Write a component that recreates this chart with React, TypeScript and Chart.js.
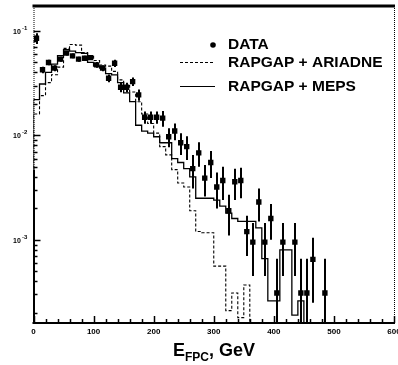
import React, { useEffect, useRef } from "react";
import { Chart, registerables } from "chart.js";

Chart.register(...registerables);

// ---- data ----
const binWidth = 10; // GeV
const mepsValues = [
  0.012, 0.022, 0.031, 0.04, 0.048, 0.058, 0.066, 0.064, 0.062, 0.061,
  0.05, 0.046, 0.044, 0.039, 0.038, 0.032, 0.0255, 0.021, 0.0125, 0.011,
  0.0105, 0.0097, 0.0085, 0.0085, 0.006, 0.0055, 0.0048, 0.004, 0.0025, 0.0025,
  0.0025, 0.0024, 0.0021, 0.0018, 0.0016, 0.0015, 0.0015, 0.0015, 0.0013, 0.00066,
  0.00026, 0.00026, 0.0008, 0.0008, 0.00019, 0.00026,
];
const ariadneValues = [
  0.009, 0.016, 0.024, 0.032, 0.038, 0.045, 0.068, 0.074, 0.073, 0.062,
  0.058, 0.052, 0.047, 0.046, 0.041, 0.034, 0.03, 0.026, 0.021, 0.016,
  0.013, 0.0105, 0.0078, 0.0065, 0.0047, 0.0035, 0.0032, 0.0019, 0.0012, 0.00117,
  0.00117, 0.00056, 0.00056, 0.00021, 0.00031, 0.00018, 0.00037,
];
const dataX = [
  5, 15, 25, 35, 45, 55, 65, 75, 85, 95,
  105, 115, 125, 135, 145, 155, 165, 175, 185, 195,
  205, 215, 225, 235, 245, 255, 265, 275, 285, 295,
  305, 315, 325, 335, 345, 355, 365, 375, 385, 395,
  405, 415, 435, 445, 455, 465, 485,
];
const dataY = [
  0.085, 0.0424, 0.0498, 0.044, 0.0536, 0.0612, 0.0576, 0.0536, 0.0547, 0.0555,
  0.0473, 0.044, 0.0352, 0.049, 0.0289, 0.0289, 0.0327, 0.0244, 0.0149, 0.0149,
  0.0149, 0.0146, 0.0097, 0.011, 0.0085, 0.0078, 0.0048, 0.0068, 0.0039, 0.0055,
  0.0032, 0.0037, 0.0019, 0.0036, 0.0037, 0.0012, 0.00095, 0.0023, 0.00095, 0.0016,
  0.00031, 0.00095, 0.00095, 0.00031, 0.00031, 0.00065, 0.00031,
];
const dataErr = [
  0.01, 0.003, 0.003, 0.003, 0.003, 0.003, 0.003, 0.003, 0.003, 0.003,
  0.003, 0.003, 0.003, 0.004, 0.003, 0.003, 0.003, 0.003, 0.002, 0.002,
  0.002, 0.0025, 0.002, 0.002, 0.002, 0.002, 0.0017, 0.0018, 0.0013, 0.0016,
  0.0012, 0.0013, 0.0008, 0.0012, 0.0012, 0.0005, 0.0005, 0.0008, 0.0005, 0.0006,
  0.00035, 0.0005, 0.0005, 0.00035, 0.00035, 0.0004, 0.00035,
];
const xTickLabels = ["0", "100", "200", "300", "400", "500", "600"];
const xTickValues = [0, 100, 200, 300, 400, 500, 600];
const yDecades = [-1, -2, -3];
const legendLabels = ["DATA", "RAPGAP + ARIADNE", "RAPGAP + MEPS"];
const X_MIN = 0;
const X_MAX = 600;
const Y_MIN = 1.6e-4;
const Y_MAX = 0.173;
const FLOOR = 1e-6;

const FONT = "'Liberation Sans', Arial, Helvetica, sans-serif";

function histPoints(values: number[]) {
  const pts: { x: number; y: number }[] = [{ x: 0, y: FLOOR }];
  values.forEach((v, i) => pts.push({ x: i * binWidth, y: v }));
  pts.push({ x: values.length * binWidth, y: FLOOR });
  return pts;
}

const errorBarPlugin = {
  id: "errorBars",
  afterDatasetsDraw(chart: any) {
    const { ctx, chartArea, scales } = chart;
    const xs = scales.x;
    const ys = scales.y;
    ctx.save();
    ctx.beginPath();
    ctx.rect(chartArea.left, chartArea.top, chartArea.right - chartArea.left, chartArea.bottom - chartArea.top);
    ctx.clip();
    ctx.strokeStyle = "#000";
    ctx.lineWidth = 2;
    dataX.forEach((xv, i) => {
      const px = Math.round(xs.getPixelForValue(xv));
      const hi = ys.getPixelForValue(dataY[i] + dataErr[i]);
      const lowVal = dataY[i] - dataErr[i];
      const lo = lowVal > 0 ? ys.getPixelForValue(lowVal) : chartArea.bottom + 5;
      ctx.beginPath();
      ctx.moveTo(px, hi);
      ctx.lineTo(px, lo);
      ctx.stroke();
    });
    ctx.restore();
  },
};

const framePlugin = {
  id: "frame",
  afterDraw(chart: any) {
    const { ctx, chartArea, scales } = chart;
    const xs = scales.x;
    const ys = scales.y;
    const { left, right, top, bottom } = chartArea;
    ctx.save();
    ctx.strokeStyle = "#000";
    ctx.fillStyle = "#000";

    // top thick border
    ctx.lineWidth = 3;
    ctx.beginPath();
    ctx.moveTo(left - 1, top);
    ctx.lineTo(right + 1, top);
    ctx.stroke();

    // right dotted border
    ctx.lineWidth = 1;
    ctx.setLineDash([1, 1]);
    ctx.beginPath();
    ctx.moveTo(right + 0.5, top);
    ctx.lineTo(right + 0.5, bottom);
    ctx.stroke();
    // left border upper dotted
    const split = ys.getPixelForValue(0.0047);
    ctx.beginPath();
    ctx.moveTo(left + 0.5, top);
    ctx.lineTo(left + 0.5, split);
    ctx.stroke();
    ctx.setLineDash([]);

    // left axis lower solid
    ctx.lineWidth = 2;
    ctx.beginPath();
    ctx.moveTo(left + 0.5, split);
    ctx.lineTo(left + 0.5, bottom + 1);
    ctx.stroke();

    // bottom axis
    ctx.beginPath();
    ctx.moveTo(left - 1, bottom);
    ctx.lineTo(right + 1, bottom);
    ctx.stroke();

    // x ticks (inward)
    ctx.lineWidth = 1.5;
    for (let v = X_MIN; v <= X_MAX; v += 20) {
      const px = Math.round(xs.getPixelForValue(v)) + 0.5;
      const len = v % 100 === 0 ? 7 : 4;
      ctx.beginPath();
      ctx.moveTo(px, bottom);
      ctx.lineTo(px, bottom - len);
      ctx.stroke();
    }
    // y ticks (inward)
    for (let d = -4; d <= -1; d++) {
      for (let m = 1; m <= 9; m++) {
        const v = m * Math.pow(10, d);
        if (v < Y_MIN || v > Y_MAX) continue;
        const py = Math.round(ys.getPixelForValue(v)) + 0.5;
        const len = m === 1 ? 7 : 4;
        ctx.beginPath();
        ctx.moveTo(left, py);
        ctx.lineTo(left + len, py);
        ctx.stroke();
      }
    }

    // x tick labels
    ctx.font = `bold 8px ${FONT}`;
    ctx.textAlign = "center";
    ctx.textBaseline = "alphabetic";
    xTickValues.forEach((v, i) => {
      const px = xs.getPixelForValue(v);
      ctx.fillText(xTickLabels[i], px, bottom + 11);
    });

    // y tick labels 10^-n
    yDecades.forEach((d) => {
      const py = ys.getPixelForValue(Math.pow(10, d));
      ctx.font = `bold 7px ${FONT}`;
      ctx.textAlign = "left";
      ctx.fillText("10", 13, py + 3);
      ctx.font = `bold 6px ${FONT}`;
      ctx.fillText(String(d), 22, py - 1);
    });

    // axis title E_FPC, GeV
    ctx.textAlign = "left";
    let tx = 173;
    ctx.font = `bold 18px ${FONT}`;
    ctx.fillText("E", tx, 356);
    tx += ctx.measureText("E").width;
    ctx.font = `bold 12px ${FONT}`;
    ctx.fillText("FPC", tx, 361);
    tx += ctx.measureText("FPC").width;
    ctx.font = `bold 18px ${FONT}`;
    ctx.fillText(", GeV", tx, 356);

    // legend
    ctx.font = `bold 15.5px ${FONT}`;
    ctx.textAlign = "left";
    ctx.textBaseline = "middle";
    ctx.beginPath();
    ctx.arc(213, 45, 2.8, 0, Math.PI * 2);
    ctx.fill();
    ctx.fillText(legendLabels[0], 228, 45);

    ctx.lineWidth = 1;
    ctx.setLineDash([3, 2]);
    ctx.beginPath();
    ctx.moveTo(180, 62.5);
    ctx.lineTo(214, 62.5);
    ctx.stroke();
    ctx.setLineDash([]);
    ctx.fillText(legendLabels[1], 228, 63);

    ctx.lineWidth = 1.2;
    ctx.beginPath();
    ctx.moveTo(180, 86.5);
    ctx.lineTo(215, 86.5);
    ctx.stroke();
    ctx.fillText(legendLabels[2], 228, 87);

    ctx.restore();
  },
};

export default function App() {
  const canvasRef = useRef<HTMLCanvasElement | null>(null);

  useEffect(() => {
    const canvas = canvasRef.current;
    if (!canvas) return;
    const chart = new Chart(canvas, {
      type: "line",
      data: {
        datasets: [
          {
            label: legendLabels[2],
            data: histPoints(mepsValues),
            stepped: "after",
            borderColor: "#000",
            borderWidth: 1.3,
            pointRadius: 0,
            fill: false,
          },
          {
            label: legendLabels[1],
            data: histPoints(ariadneValues),
            stepped: "after",
            borderColor: "#000",
            borderWidth: 1.1,
            borderDash: [3, 2],
            pointRadius: 0,
            fill: false,
          },
          {
            label: legendLabels[0],
            data: dataX.map((x, i) => ({ x, y: dataY[i] })),
            showLine: false,
            pointStyle: "rect",
            pointRadius: 3.8,
            pointBackgroundColor: "#000",
            pointBorderColor: "#000",
            borderWidth: 0,
          },
        ],
      },
      options: {
        responsive: false,
        animation: false,
        devicePixelRatio: 1,
        layout: { padding: { left: 33.5, right: 2.5, top: 6, bottom: 42 } },
        plugins: {
          legend: { display: false },
          tooltip: { enabled: false },
        },
        scales: {
          x: { type: "linear", min: X_MIN, max: X_MAX, display: false },
          y: { type: "logarithmic", min: Y_MIN, max: Y_MAX, display: false },
        },
      },
      plugins: [errorBarPlugin, framePlugin],
    });
    return () => chart.destroy();
  }, []);

  return (
    <div style={{ position: "fixed", left: 0, top: 0, width: 398, height: 365, background: "#fff" }}>
      <canvas ref={canvasRef} width={398} height={365} style={{ display: "block" }} />
    </div>
  );
}
